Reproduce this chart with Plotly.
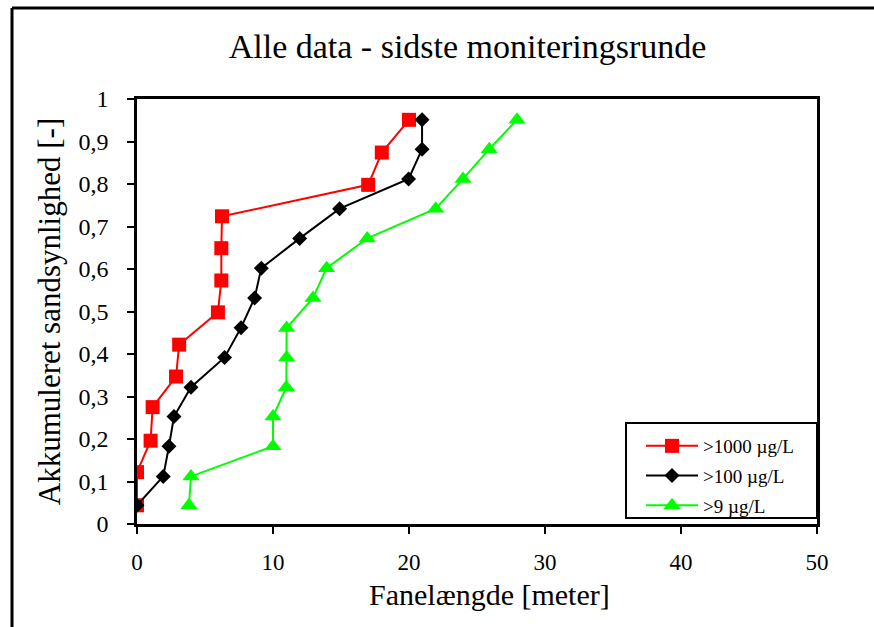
import plotly.graph_objects as go

# Data
red_x = [0, 0, 1.0, 1.15, 2.87, 3.1, 5.95, 6.2, 6.2, 6.25, 17.0, 18.0, 20.0]
red_y = [0.044, 0.122, 0.196, 0.275, 0.347, 0.422, 0.498, 0.573, 0.649, 0.724, 0.798, 0.874, 0.951]

black_x = [0, 1.93, 2.35, 2.72, 3.97, 6.44, 7.65, 8.65, 9.14, 11.96, 14.9, 19.97, 20.96, 20.96]
black_y = [0.044, 0.112, 0.183, 0.253, 0.322, 0.392, 0.462, 0.532, 0.602, 0.672, 0.742, 0.812, 0.882, 0.951]

green_x = [3.82, 3.97, 10.0, 10.0, 10.98, 11.0, 11.0, 12.94, 13.94, 16.93, 21.96, 23.97, 25.9, 27.94]
green_y = [0.044, 0.112, 0.183, 0.253, 0.322, 0.392, 0.461, 0.532, 0.602, 0.672, 0.742, 0.812, 0.882, 0.951]

series_names = [">1000 µg/L", ">100 µg/L", ">9 µg/L"]

FONT = "Liberation Serif, Times New Roman, serif"

# plot-area geometry in pixels (used to place the frame / legend box)
PL, PR, PT, PB = 137, 817, 99, 524
PW, PH = PR - PL, PB - PT

fig = go.Figure()
fig.add_trace(go.Scatter(x=red_x, y=red_y, mode="lines+markers", name=series_names[0],
                         legendgroup="a",
                         line=dict(color="#ff0000", width=2),
                         marker=dict(symbol="square", size=14, color="#ff0000")))
fig.add_trace(go.Scatter(x=black_x, y=black_y, mode="lines+markers", name=series_names[1],
                         legendgroup="b",
                         line=dict(color="#000000", width=2),
                         marker=dict(symbol="diamond", size=11.5, color="#000000")))
fig.add_trace(go.Scatter(x=green_x, y=green_y, mode="lines+markers", name=series_names[2],
                         legendgroup="c",
                         line=dict(color="#00ff00", width=2),
                         marker=dict(symbol="triangle-up", size=15, color="#00ff00")))

fig.update_layout(
    width=874, height=627,
    margin=dict(l=PL, r=874 - PR, t=PT, b=627 - PB),
    paper_bgcolor="white", plot_bgcolor="white",
    separators=", ",
    font=dict(family=FONT, color="black"),
    title=dict(text="Alle data - sidste moniteringsrunde", x=0.535, xref="container",
               xanchor="center", y=1 - 46 / 627, yanchor="middle",
               font=dict(family=FONT, size=34, color="black")),
    legend=dict(x=(641 - PL) / PW, xanchor="left", y=(PB - 427) / PH, yanchor="top",
                borderwidth=0, bgcolor="rgba(0,0,0,0)",
                font=dict(family=FONT, size=19, color="black"),
                tracegroupgap=2, itemwidth=52),
    showlegend=True,
)

fig.update_xaxes(range=[0, 50], dtick=10, tick0=0, showgrid=False, zeroline=False,
                 showline=True, linecolor="black", linewidth=2.5, mirror=True,
                 ticks="outside", ticklen=7, tickwidth=2, tickcolor="black",
                 tickfont=dict(family=FONT, size=23, color="black"),
                 ticklabelstandoff=9, automargin=False)
fig.update_yaxes(range=[0, 1], dtick=0.1, tick0=0, showgrid=False, zeroline=False,
                 showline=True, linecolor="black", linewidth=2.5, mirror=True,
                 ticks="outside", ticklen=7, tickwidth=2, tickcolor="black",
                 tickfont=dict(family=FONT, size=24, color="black"),
                 ticklabelstandoff=14, automargin=False,
                 title=dict(text="Akkumuleret sandsynlighed [-]", standoff=9,
                            font=dict(family=FONT, size=31, color="black")))

# x-axis title
fig.add_annotation(text="Fanelængde [meter]", xref="paper", yref="paper",
                   x=(489 - PL) / PW, y=(PB - 594) / PH, xanchor="center", yanchor="middle",
                   showarrow=False, font=dict(family=FONT, size=30, color="black"))

# legend box
fig.add_shape(type="rect", xref="paper", yref="paper",
              x0=(626 - PL) / PW, x1=1.0, y0=(PB - 518) / PH, y1=(PB - 423) / PH,
              line=dict(color="black", width=2), fillcolor="white", layer="above")

# outer chart frame (left and top edges visible in the reference)
fig.add_shape(type="line", xref="paper", yref="paper",
              x0=(12 - PL) / PW, x1=(12 - PL) / PW, y0=(PB - 640) / PH, y1=(PB - 8) / PH,
              line=dict(color="black", width=3), layer="above")
fig.add_shape(type="line", xref="paper", yref="paper",
              x0=(12 - PL) / PW, x1=(880 - PL) / PW, y0=(PB - 8) / PH, y1=(PB - 8) / PH,
              line=dict(color="black", width=3), layer="above")

fig.write_html("out.html", config={"displayModeBar": False},
               post_script="document.body.style.margin='0';document.body.style.overflow='hidden';")
